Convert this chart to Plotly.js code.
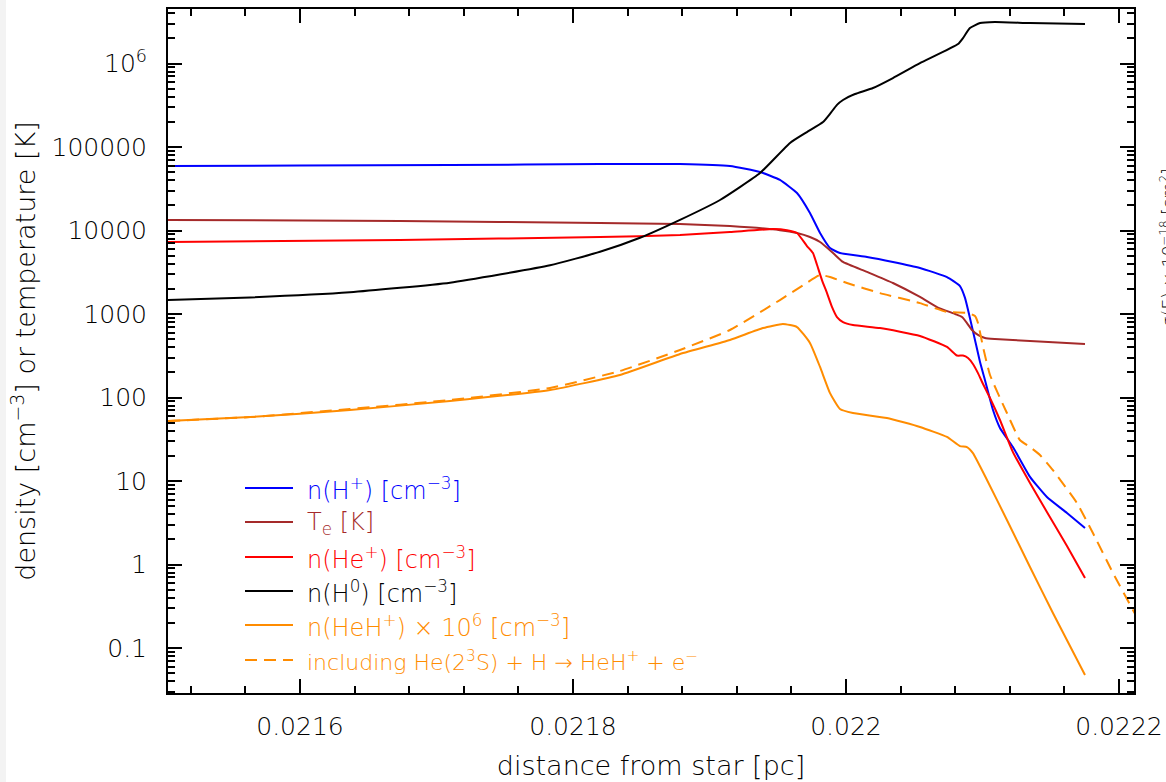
<!DOCTYPE html>
<html>
<head>
<meta charset="utf-8">
<script src="https://cdn.plot.ly/plotly-3.0.1.min.js"></script>
<style>
  html, body { margin: 0; padding: 0; background: #ffffff; }
  #chart { width: 1166px; height: 782px; }
</style>
</head>
<body>
<div id="chart"></div>
<script>
// ---------------- data (distance in pc, densities in cm^-3, temperature in K) ----------------
const hplusX = [0.0215033,0.0216,0.0217099,0.0218198,0.0218784,0.021915,0.021937,0.0219516,0.0219641,0.0219736,0.021981,0.0219883,0.0219956,0.0220154,0.0220344,0.0220542,0.022074,0.0220835,0.0220872,0.0220908,0.0220945,0.0220982,0.0221018,0.0221077,0.0221128,0.0221223,0.0221348,0.0221472,0.0221619,0.0221751];
const hplusY = [59200,60000,60800,62500,62500,59200,50200,40300,28100,16200,9330,6170,5380,4820,4200,3560,2770,2160,1560,896,489,266,162,70.8,43.2,25.5,11.2,6.43,4.14,2.74];

const teX = [0.0215033,0.0216733,0.0218198,0.0218784,0.021915,0.0219516,0.0219641,0.0219736,0.021981,0.0219905,0.0219978,0.0220154,0.0220344,0.0220542,0.0220667,0.0220799,0.022085,0.0220886,0.0220923,0.0220967,0.0221018,0.0221091,0.0221348,0.0221751];
const teY = [13400,13000,12300,12000,11300,10100,9330,8360,7280,5380,4200,3190,2350,1600,1210,1000,920,780,643,561,516,502,475,438];

const heplusX = [0.0215033,0.0216733,0.0218198,0.0218784,0.021915,0.0219465,0.0219568,0.0219641,0.0219714,0.0219758,0.0219788,0.0219824,0.0219861,0.0219898,0.0219934,0.0219978,0.0220051,0.0220249,0.0220542,0.022074,0.0220813,0.0220857,0.0220894,0.022093,0.0220967,0.0221004,0.0221055,0.0221128,0.0221223,0.0221348,0.0221472,0.0221619,0.0221751];
const heplusY = [7280,7690,8360,8830,9590,10400,10100,9330,6520,5380,3860,2550,1780,1210,920,802,738,679,546,403,318,318,297,252,196,145,98.6,53.8,22.2,9.46,4.26,1.67,0.689];

const h0X = [0.0215033,0.0215634,0.0216366,0.0217099,0.0217832,0.0218198,0.0218491,0.0218784,0.0219077,0.021937,0.021959,0.0219714,0.0219832,0.0219883,0.0219934,0.0219978,0.0220066,0.0220198,0.0220344,0.0220542,0.0220821,0.0220857,0.0220908,0.0220982,0.0221091,0.0221348,0.0221751];
const h0Y = [1470,1580,1820,2370,3830,5560,8180,13400,23200,48800,112000,151000,199000,250000,320000,366000,431000,509000,670000,1010000,1710000,2020000,2660000,3050000,3140000,3050000,2970000];

const hehX = [0.0215033,0.0215634,0.0216366,0.0217099,0.0217832,0.0218344,0.0218784,0.021915,0.0219392,0.0219538,0.0219641,0.0219736,0.021981,0.0219883,0.0219956,0.0220051,0.02203,0.0220542,0.022074,0.0220835,0.0220886,0.022093,0.0221033,0.0221179,0.0221348,0.0221516,0.0221751];
const hehY = [52.3,58.3,70.8,90.8,123,186,332,489,679,759,698,450,232,113,72.8,65.2,56.8,44.4,33.7,26.2,25.5,21.6,10.3,3.41,0.933,0.262,0.0475];

const hehAssocX = [0.0215033,0.0215634,0.0216366,0.0217099,0.0217832,0.0218344,0.0218784,0.021915,0.0219516,0.02197,0.021981,0.0219883,0.0220007,0.0220249,0.0220542,0.022074,0.0220894,0.0220945,0.0220967,0.0221004,0.0221055,0.0221179,0.0221274,0.0221348,0.0221421,0.0221516,0.0221692,0.0221809,0.0221956,0.0222102,0.022219];
const hehAssocY = [52.3,58.3,72.8,93.3,130,208,371,643,1470,2290,2930,2770,2350,1780,1350,1060,1030,946,780,403,186,65.2,31.0,25.5,20.5,13.5,5.45,2.38,0.791,0.285,0.156];

const seriesNames = [
  'n(H<sup>+</sup>) [cm<sup>−3</sup>]',
  'T<sub>e</sub> [K]',
  'n(He<sup>+</sup>) [cm<sup>−3</sup>]',
  'n(H<sup>0</sup>) [cm<sup>−3</sup>]',
  'n(HeH<sup>+</sup>) × 10<sup>6</sup> [cm<sup>−3</sup>]',
  'including He(2<sup>3</sup>S) + H → HeH<sup>+</sup> + e<sup>−</sup>'
];
const seriesColors = ['#0000ff', '#a52a2a', '#ff0000', '#000000', '#ff8c00', '#ff8c00'];

const xTickVals = [0.0216, 0.0218, 0.022, 0.0222];
const xTickText = ['0.0216', '0.0218', '0.022', '0.0222'];
const yTickVals = [0.1, 1, 10, 100, 1000, 10000, 100000, 1000000];
const yTickText = ['0.1', '1', '10', '100', '1000', '10000', '100000', '10<sup>6</sup>'];

// ---------------- minor tick positions ----------------
const xMinor = [];
for (let k = -3; k <= 17; k++) { const v = +(0.0216 + k * 0.00004).toFixed(6); xMinor.push(v); }
const yMinor = [];
for (let e = -2; e <= 6; e++) for (let m = 2; m <= 9; m++) yMinor.push(m * Math.pow(10, e));

const FONT = 'DejaVu Sans';
const FW = 200;

// ---------------- traces ----------------
const xs = [hplusX, teX, heplusX, h0X, hehX, hehAssocX];
const ys = [hplusY, teY, heplusY, h0Y, hehY, hehAssocY];
const traces = xs.map((x, i) => ({
  x: x, y: ys[i], type: 'scatter', mode: 'lines', name: seriesNames[i],
  line: { color: seriesColors[i], width: 2, shape: 'spline', smoothing: 0.45,
          dash: i === 5 ? '12px,7px' : 'solid' },
  hoverinfo: 'skip'
}));

// ---------------- legend drawn inside plot ----------------
const L = 168, R = 1134, T = 9, B = 693;
const px = v => (v - L) / (R - L);
const py = v => (B - v) / (B - T);
const legendRows = [488, 522, 557, 591, 625, 660];
const shapes = [
  { type: 'rect', xref: 'paper', yref: 'paper', x0: px(-5), x1: px(6), y0: py(800), y1: py(-10),
    fillcolor: '#f3f3f3', line: { width: 0 }, layer: 'below' }
];
const annotations = [];
legendRows.forEach((r, i) => {
  shapes.push({ type: 'line', xref: 'paper', yref: 'paper', x0: px(245), x1: px(293), y0: py(r), y1: py(r),
    line: { color: seriesColors[i], width: 2, dash: i === 5 ? '12px,7px' : 'solid' } });
  annotations.push({ xref: 'paper', yref: 'paper', x: px(305), y: py(r + 1), xanchor: 'left', yanchor: 'middle',
    text: seriesNames[i], showarrow: false,
    font: { family: FONT, weight: FW, size: i === 5 ? 22 : 24, color: seriesColors[i] } });
});
annotations.push({ xref: 'paper', yref: 'paper', x: px(1155), y: py(248), xanchor: 'left', yanchor: 'middle',
  text: 'σ(E) × 10<sup>−18</sup> [cm<sup>2</sup>]', textangle: -90, showarrow: false,
  font: { family: FONT, size: 17, color: '#000' } });

const axisCommon = {
  showgrid: false, zeroline: false, showline: true, linecolor: '#000', linewidth: 2,
  mirror: 'allticks', ticks: 'inside', ticklen: 14, tickwidth: 2, tickcolor: '#000',
  tickfont: { family: FONT, weight: FW, size: 25, color: '#000' }
};

const layout = {
  width: 1166, height: 782,
  margin: { l: L, r: 1166 - R, t: T, b: 782 - B, pad: 0 },
  paper_bgcolor: '#ffffff', plot_bgcolor: '#ffffff',
  showlegend: false,
  font: { family: FONT, weight: FW, size: 24, color: '#000' },
  xaxis: Object.assign({}, axisCommon, {
    range: [0.0215033, 0.022211], tickmode: 'array', tickvals: xTickVals, ticktext: xTickText,
    ticklabelstandoff: 10,
    minor: { tickmode: 'array', tickvals: xMinor, ticks: 'inside', ticklen: 7, tickwidth: 2, tickcolor: '#000', showgrid: false },
    title: { text: 'distance from star [pc]', font: { family: FONT, weight: FW, size: 27, color: '#000' }, standoff: 16 },
    automargin: false
  }),
  yaxis: Object.assign({}, axisCommon, {
    type: 'log', range: [-1.539, 6.653], tickmode: 'array', tickvals: yTickVals, ticktext: yTickText,
    ticklabelstandoff: 14,
    minor: { tickmode: 'array', tickvals: yMinor, ticks: 'inside', ticklen: 7, tickwidth: 2, tickcolor: '#000', showgrid: false },
    title: { text: 'density [cm<sup>−3</sup>] or temperature [K]', font: { family: FONT, weight: FW, size: 27, color: '#000' }, standoff: 8 },
    automargin: false
  }),
  shapes: shapes,
  annotations: annotations
};

Plotly.newPlot('chart', traces, layout, { displayModeBar: false, staticPlot: true });
</script>
</body>
</html>
